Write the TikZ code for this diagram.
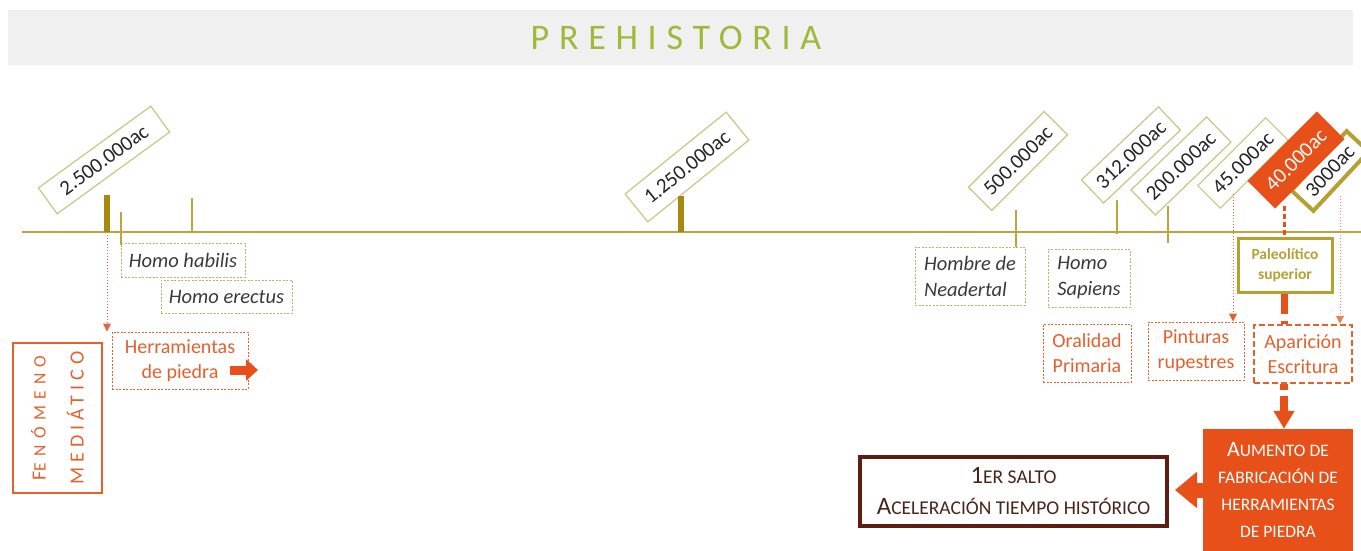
\documentclass[tikz,border=0pt]{standalone}
\usepackage{fontspec}
\setmainfont{Carlito}
\usetikzlibrary{arrows.meta}
\definecolor{olivel}{HTML}{BBA53C}
\definecolor{tickc}{HTML}{A8880F}
\definecolor{boxc}{HTML}{CFC283}
\definecolor{dotc}{HTML}{BFAF6A}
\definecolor{orng}{HTML}{E8501A}
\definecolor{orntxt}{HTML}{E2612C}
\definecolor{brownb}{HTML}{5C1E0E}
\definecolor{browntxt}{HTML}{4A2418}
\definecolor{titleg}{HTML}{9CBB3A}
\definecolor{bandc}{HTML}{F0F0F0}
\definecolor{palc}{HTML}{B5A030}
\definecolor{txtc}{HTML}{262626}
\definecolor{itc}{HTML}{3A3A3A}
\definecolor{redd}{HTML}{E8604A}
\tikzset{
  datebox/.style={draw=boxc, line width=1.2, fill=white, inner sep=0pt, text=txtc,
    font=\fontsize{21}{24}\selectfont},
  thicktick/.style={draw=tickc, line width=6},
  thintick/.style={draw=olivel, line width=1.2},
  hbox/.style={draw=dotc, line width=1, dash pattern=on 2 off 1.5, inner sep=0pt,
    text=itc, font=\fontsize{20.5}{26}\selectfont\itshape},
  obox/.style={draw=orntxt, line width=1, dash pattern=on 2 off 1.5, inner sep=0pt,
    text=orntxt, font=\fontsize{20}{25}\selectfont, align=center},
}
\begin{document}
\begin{tikzpicture}[x=1pt,y=-1pt]
\useasboundingbox (0,0) rectangle (1361,551);
\clip (0,0) rectangle (1361,551);
% title band
\fill[bandc] (8,10) rectangle (1353,65);
\node[text=titleg, font=\fontsize{36}{40}\selectfont\addfontfeatures{LetterSpace=27}] (title) at (676,38) {PREHISTORIA};
% timeline
\coordinate (tlL) at (22,232);
\coordinate (tlR) at (1361,232);
\draw[olivel, line width=1.5] (tlL) -- (tlR);
% date boxes
\node[datebox, rotate=36, minimum width=139, minimum height=32] (d25) at (104,160) {2.500.000ac};
\node[datebox, rotate=39, minimum width=130, minimum height=36] (d125) at (687,167) {1.250.000ac};
\node[datebox, rotate=45, minimum width=107, minimum height=33] (d500) at (1018,161) {500.000ac};
\node[datebox, rotate=43.5, minimum width=106, minimum height=32] (d312) at (1131,155) {312.000ac};
\node[datebox, rotate=44, minimum width=105, minimum height=35] (d200) at (1181,166) {200.000ac};
\node[datebox, rotate=45, minimum width=96, minimum height=32] (d45) at (1243,163) {45.000ac};
\node[datebox, draw=palc, line width=4, rotate=47, minimum width=81, minimum height=30] (d3000) at (1330,171) {3000ac};
\node[datebox, draw=orng, fill=orng, text=white, rotate=45, minimum width=97, minimum height=38] (d40) at (1296,160) {40.000ac};
% ticks
\draw[thicktick] (107,195) -- (107,232);
\draw[thintick] (121,212) -- (121,245);
\draw[thintick] (192,198) -- (192,232);
\draw[thicktick] (681,196) -- (681,232);
\draw[thintick] (1016,210) -- (1016,247);
\draw[thintick] (1117,200) -- (1117,234);
\draw[thintick] (1168,206) -- (1168,243);
% species boxes
\node[hbox, minimum width=124, minimum height=34] (habilis) at (183,260) {Homo habilis};
\node[hbox, minimum width=131, minimum height=33] (erectus) at (226.5,296.5) {Homo erectus};
\node[hbox, minimum width=110, minimum height=58, align=left] (neader) at (970,276) {Hombre de\\Neadertal};
\node[hbox, minimum width=82, minimum height=58, align=left] (sapiens) at (1089,278) {Homo\\Sapiens};
% orange boxes
\node[obox, minimum width=136, minimum height=57] (herr) at (180,360.5) {Herramientas\\de piedra};
\node[obox, minimum width=88, minimum height=58] (oral) at (1087,353) {Oralidad\\Primaria};
\node[obox, minimum width=96, minimum height=58] (pint) at (1196,351) {Pinturas\\rupestres};
\node[obox, line width=2.5, dash pattern=on 6 off 3, minimum width=98, minimum height=58] (apa) at (1303,354) {Aparición\\Escritura};
\node[draw=palc, line width=3, inner sep=0pt, minimum width=94, minimum height=54, text=palc,
  font=\fontsize{15.5}{20}\selectfont\bfseries, align=center] (pal) at (1285,265) {Paleolítico\\superior};
% fenomeno mediatico
\node[draw=orntxt, line width=1.2, minimum width=89, minimum height=150, inner sep=0pt] (fen) at (57.5,418) {};
\node[rotate=90, text=orntxt, align=center, inner sep=0pt, font=\fontsize{20}{38}\selectfont] (fentxt) at (fen.center)
  {{\addfontfeatures{LetterSpace=36}F\fontsize{17.5}{38}\selectfont ENÓMENO}\\
   {\addfontfeatures{LetterSpace=25}MEDIÁTICO}};
% aumento and salto
\node[fill=orng, inner sep=0pt, minimum width=150, minimum height=122, text=white, align=center,
  font=\fontsize{17.5}{27}\selectfont] (aum) at (1278,490)
  {{\fontsize{22}{27}\selectfont A}UMENTO DE\\FABRICACIÓN DE\\HERRAMIENTAS\\DE PIEDRA};
\node[draw=brownb, line width=4, fill=white, inner sep=0pt, minimum width=307, minimum height=69,
  text=browntxt, align=center, font=\fontsize{19.5}{31}\selectfont] (salto) at (1013.5,491.5)
  {{\fontsize{25}{31}\selectfont 1}ER SALTO\\{\fontsize{25}{31}\selectfont A}CELERACIÓN TIEMPO HISTÓRICO};
% connectors
\coordinate (c25) at (107,235);
\draw[redd, line width=1, dotted, -{Triangle[width=8,length=8]}] (c25) -- (c25 |- herr.north);
\coordinate (ha) at (230,370);
\draw[orng, line width=9, -{Triangle[width=21,length=12]}] (ha) -- ++(28,0);
\coordinate (c45) at (1233,194);
\draw[orntxt, line width=1, dotted, -{Triangle[width=8,length=8]}] (c45) -- (c45 |- pint.north);
\coordinate (c3000) at (1340,196);
\draw[orntxt!80, line width=1, dotted, -{Triangle[width=8,length=8]}] (c3000) -- (c3000 |- apa.north);
\coordinate (c40) at (1284,206);
\draw[orng, line width=3, dash pattern=on 5 off 3] (c40) -- (c40 |- pal.north);
\draw[orng, line width=7, dash pattern=on 20 off 7] (pal.south -| c40) -- (c40 |- apa.north);
\draw[orng, line width=8, dash pattern=on 6 off 6 on 60 off 0, -{Triangle[width=20,length=18]}] (c40 |- apa.south) -- (c40 |- aum.north);
\draw[orng, line width=15, shorten >=6, -{Triangle[width=35,length=22]}] (aum.west) -- (salto.east |- aum.west);
\end{tikzpicture}
\end{document}
